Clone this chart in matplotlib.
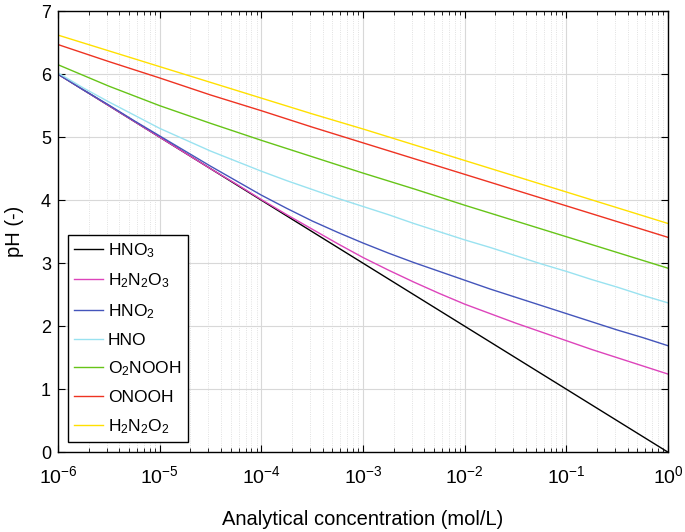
import numpy as np
import matplotlib
matplotlib.use('Agg')
import matplotlib.pyplot as plt

plt.rcParams['font.family'] = ['Liberation Sans', 'DejaVu Sans']
plt.rcParams['mathtext.fontset'] = 'custom'
plt.rcParams['mathtext.rm'] = 'Liberation Sans'
plt.rcParams['mathtext.it'] = 'Liberation Sans:italic'

# concentration in mol/L
# half-decade steps for the nearly straight curves
conc_half = [1e-6, 10**-5.5, 1e-5, 10**-4.5, 1e-4, 10**-3.5, 1e-3,
             10**-2.5, 1e-2, 10**-1.5, 1e-1, 10**-0.5, 1.0]
# quarter-decade steps for the bent ones
conc_quarter = [1e-6, 10**-5.75, 10**-5.5, 10**-5.25, 1e-5, 10**-4.75, 10**-4.5,
                10**-4.25, 1e-4, 10**-3.75, 10**-3.5, 10**-3.25, 1e-3, 10**-2.75,
                10**-2.5, 10**-2.25, 1e-2, 10**-1.75, 10**-1.5, 10**-1.25, 1e-1,
                10**-0.75, 10**-0.5, 10**-0.25, 1.0]

ph_hno3 = [6.0, 5.5, 5.0, 4.5, 4.0, 3.5, 3.0, 2.5, 2.0, 1.5, 1.0, 0.5, 0.0]
ph_h2n2o3 = [6.00, 5.75, 5.50, 5.25, 5.00, 4.75, 4.50, 4.26, 4.01, 3.77, 3.54, 3.31,
             3.09, 2.89, 2.70, 2.52, 2.35, 2.20, 2.05, 1.91, 1.77, 1.63, 1.50, 1.37, 1.24]
ph_hno2 = [6.00, 5.75, 5.51, 5.26, 5.02, 4.78, 4.54, 4.31, 4.08, 3.87, 3.67, 3.49,
           3.32, 3.16, 3.01, 2.87, 2.73, 2.59, 2.46, 2.33, 2.20, 2.07, 1.94, 1.82, 1.69]
ph_hno = [6.02, 5.78, 5.56, 5.35, 5.14, 4.96, 4.78, 4.62, 4.46, 4.31, 4.17, 4.03,
          3.90, 3.77, 3.63, 3.50, 3.37, 3.25, 3.12, 2.99, 2.87, 2.74, 2.62, 2.49, 2.37]
ph_o2nooh = [6.15, 5.81, 5.50, 5.22, 4.95, 4.69, 4.43, 4.18, 3.92, 3.67, 3.42, 3.17, 2.92]
ph_onooh = [6.47, 6.20, 5.94, 5.67, 5.42, 5.16, 4.91, 4.66, 4.41, 4.16, 3.91, 3.66, 3.41]
ph_h2n2o2 = [6.62, 6.37, 6.12, 5.87, 5.62, 5.37, 5.13, 4.88, 4.63, 4.38, 4.13, 3.88, 3.63]

series = [
    (conc_half, ph_hno3, r'HNO$_3$', 'k'),
    (conc_quarter, ph_h2n2o3, r'H$_2$N$_2$O$_3$', '#dd44bb'),
    (conc_quarter, ph_hno2, r'HNO$_2$', '#4455bb'),
    (conc_quarter, ph_hno, 'HNO', '#99e2f0'),
    (conc_half, ph_o2nooh, r'O$_2$NOOH', '#66c418'),
    (conc_half, ph_onooh, 'ONOOH', '#ee3322'),
    (conc_half, ph_h2n2o2, r'H$_2$N$_2$O$_2$', '#ffe000'),
]

fig = plt.figure(figsize=(6.85, 5.32), dpi=100)
ax = fig.add_axes([0.0847, 0.150, 0.8905, 0.829])

for x, y, label, color in series:
    ax.plot(x, y, color=color, lw=1.0, label=label)

ax.set_xscale('log')
ax.set_xlim(1e-6, 1)
ax.set_ylim(0, 7)
ax.set_yticks(range(0, 8))

ax.grid(True, which='major', color='#d8d8d8', lw=0.8)
ax.grid(True, which='minor', axis='x', color='#d8d8d8', lw=0.6, ls=':')
ax.set_axisbelow(True)

ax.tick_params(which='both', direction='in', top=True, right=True)
ax.tick_params(which='major', length=5, width=0.8)
ax.tick_params(which='minor', length=3, width=0.6)
ax.tick_params(axis='x', labelsize=14, pad=9)
ax.tick_params(axis='y', labelsize=13, pad=5)
for s in ax.spines.values():
    s.set_linewidth(1.0)

ax.set_xlabel('Analytical concentration (mol/L)', fontsize=14.5, labelpad=17)
ax.set_ylabel('pH (-)', fontsize=14.5, labelpad=12)

leg = ax.legend(loc='lower left', bbox_to_anchor=(0.008, 0.012), fontsize=12.5,
                fancybox=False, edgecolor='k', framealpha=1,
                handlelength=1.65, handletextpad=0.3, labelspacing=0.68,
                borderpad=0.35, borderaxespad=0.3)
leg.get_frame().set_linewidth(1.0)

plt.savefig('out.png', dpi=100)
